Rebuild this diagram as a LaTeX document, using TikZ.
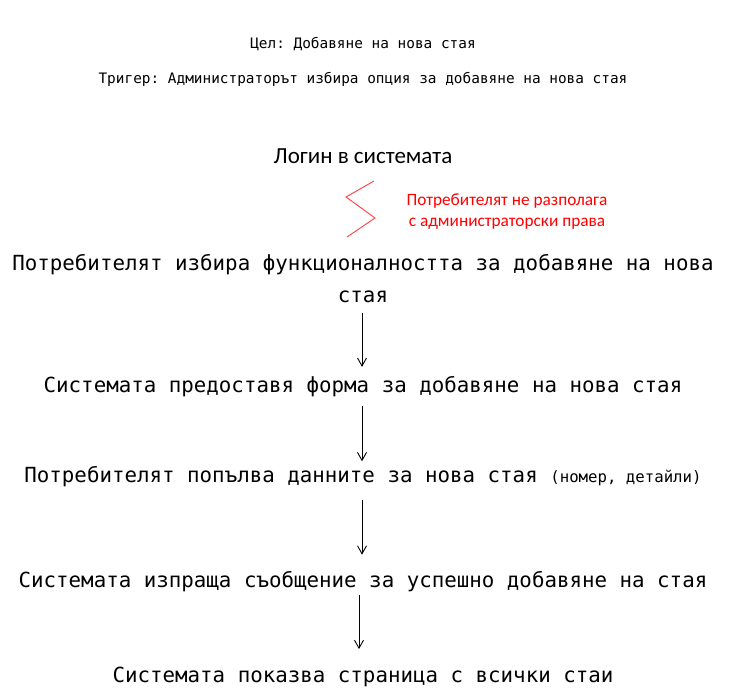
\documentclass[tikz,border=0pt]{standalone}
\usepackage{fontspec}
\setmonofont{DejaVu Sans Mono}
\newfontfamily\calibri{Carlito}
\usetikzlibrary{positioning,arrows.meta}

\begin{document}
\begin{tikzpicture}[
    x=1pt, y=1pt,
    note/.style={inner sep=0pt, text height=11pt, text depth=3pt, font=\ttfamily\fontsize{14.4}{18}\selectfont},
    stepbox/.style={inner sep=0pt, text height=16pt, text depth=5pt, align=center, font=\ttfamily\fontsize{20.8}{32}\selectfont},
    login/.style={inner sep=0pt, text height=16pt, text depth=4pt, font=\calibri\fontsize{23}{26}\selectfont},
    denied/.style={inner sep=0pt, text height=33pt, text depth=4pt, align=center, text=red, font=\calibri\fontsize{17.3}{21}\selectfont},
    flow/.style={-{Straight Barb[length=8pt, width=9pt]}, line width=0.9pt},
    zig/.style={red!75, line width=0.9pt}
]
\useasboundingbox (0,0) rectangle (729,-700);

% Nodes
\node[note, anchor=base] (goal) at (363,-49) {Цел: Добавяне на нова стая};
\node[note, below=20pt of goal] (trigger) {Тригер: Администраторът избира опция за добавяне на нова стая};
\node[login, below=61pt of trigger] (login) {Логин в системата};
\node[denied, below=25pt of login, xshift=144pt] (denied) {Потребителят не разполага\\ с администраторски права};
\node[stepbox, text height=48pt, below=86.5pt of login] (choose) {Потребителят избира функционалността за добавяне на нова\\стая};
\node[stepbox, below=68pt of choose] (form) {Системата предоставя форма за добавяне на нова стая};
\node[stepbox, below=69pt of form] (fill) {Потребителят попълва данните за нова стая {\fontsize{15.7}{16}\selectfont(номер, детайли)}};
\node[stepbox, below=84pt of fill] (msg) {Системата изпраща съобщение за успешно добавяне на стая};
\node[stepbox, below=73pt of msg] (show) {Системата показва страница с всички стаи};

% Zigzag
\draw[zig] (374,-181) -- (346,-197) -- (375,-218) -- (347,-237);

% Arrows
\draw[flow, shorten <=5pt, shorten >=9pt] ([xshift=-1pt]choose.south) -- ([xshift=-1pt]choose.south |- form.north);
\draw[flow, shorten <=9pt, shorten >=5pt] ([xshift=-1pt]form.south) -- ([xshift=-1pt]form.south |- fill.north);
\draw[flow, shorten <=12pt, shorten >=17pt] ([xshift=-1pt]fill.south) -- ([xshift=-1pt]fill.south |- msg.north);
\draw[flow, shorten <=2pt, shorten >=17pt] ([xshift=-4pt]msg.south) -- ([xshift=-4pt]msg.south |- show.north);
\end{tikzpicture}
\end{document}
